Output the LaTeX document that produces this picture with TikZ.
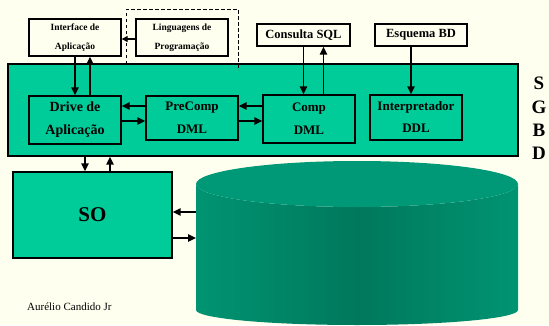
\documentclass[tikz,border=0pt]{standalone}
\usepackage{fontspec}
\setmainfont{Liberation Serif}
\usetikzlibrary{arrows.meta,calc}
\definecolor{paper}{RGB}{255,255,240}
\definecolor{sgbdgreen}{RGB}{0,204,153}
\definecolor{cyltop}{RGB}{0,153,119}
\definecolor{cylside}{RGB}{0,148,114}
\definecolor{cylmid}{RGB}{0,120,92}
\tikzset{
  box/.style={draw=black, line width=1.4pt, inner sep=0pt, align=center, font=\bfseries},
  whitebox/.style={box, fill=paper},
  greenbox/.style={box, fill=sgbdgreen},
  arr/.style={line width=1.5pt, -{Triangle[length=8pt,width=7.5pt]}},
  smallarr/.style={line width=1.1pt, -{Triangle[length=6pt,width=6pt]}},
  sgbdletter/.style={font=\bfseries\fontsize{19}{19}\selectfont, inner sep=0pt},
}
\begin{document}
\begin{tikzpicture}[x=1pt,y=1pt]
  % page
  \fill[paper] (0,0) rectangle (549,325);
  \useasboundingbox (0,0) rectangle (549,325);

  % SGBD block
  \node[greenbox, minimum width=510pt, minimum height=92pt] (sgbd) at (263,215) {};

  % dashed frame round the programming languages
  \draw[line width=1pt, dash pattern=on 3.5pt off 2.5pt] (126,261) -- (126,316) -- (238,316) -- (238,255);

  % outside inputs
  \node[whitebox, minimum width=92pt, minimum height=37pt, font=\bfseries\fontsize{9.5}{19}\selectfont] (iface) at (75,287.5) {Interface de\\Aplicação};
  \node[whitebox, minimum width=92pt, minimum height=37pt, font=\bfseries\fontsize{9.5}{19}\selectfont] (ling) at (182,287.5) {Linguagens de\\Programação};
  \node[whitebox, minimum width=93pt, minimum height=22pt, font=\bfseries\fontsize{12.5}{14}\selectfont] (sql) at (303.5,290) {Consulta SQL};
  \node[whitebox, minimum width=92pt, minimum height=22pt, font=\bfseries\fontsize{12.5}{14}\selectfont] (esq) at (421,290) {Esquema BD};

  % SGBD modules
  \node[greenbox, minimum width=92pt, minimum height=48pt, font=\bfseries\fontsize{14}{23}\selectfont] (drive) at (75,205) {Drive de\\Aplicação};
  \node[greenbox, minimum width=92pt, minimum height=44pt, font=\bfseries\fontsize{13}{23}\selectfont] (precomp) at (192,207) {PreComp\\DML};
  \node[greenbox, minimum width=92pt, minimum height=48pt, font=\bfseries\fontsize{13}{23}\selectfont] (comp) at (309,206) {Comp\\DML};
  \node[greenbox, minimum width=92pt, minimum height=45pt, font=\bfseries\fontsize{13}{22}\selectfont] (interp) at (416,207.5) {Interpretador\\DDL};

  % SGBD letters
  \node[sgbdletter] (ls) at (539,242) {S};
  \node[sgbdletter] (lg) at (539,218) {G};
  \node[sgbdletter] (lb) at (539,195) {B};
  \node[sgbdletter] (ld) at (539,172) {D};

  % operating system
  \node[greenbox, minimum width=159pt, minimum height=86pt, font=\bfseries\fontsize{21}{22}\selectfont] (so) at (92.5,110) {SO};

  % database cylinder
  \coordinate (cylL) at (196,141);
  \shade[left color=cylside, right color=cylside, middle color=cylmid]
    (196,141) -- (196,15) arc[start angle=180, end angle=360, x radius=161, y radius=15]
    -- (518,141) arc[start angle=0, end angle=-180, x radius=161, y radius=23] -- cycle;
  \fill[cyltop] (357,141) ellipse[x radius=161, y radius=23];

  % connectors
  \draw[smallarr] (ling.west |- 0,286) -- (iface.east |- 0,286);
  \draw[arr] (iface.south) -- (drive.north);
  \draw[arr] ([xshift=15pt]drive.north) -- ([xshift=15pt]iface.south);

  \draw[arr] ([yshift=12pt]precomp.west) -- ([yshift=12pt]precomp.west -| drive.east);
  \draw[arr] ([yshift=-3pt]precomp.west -| drive.east) -- ([yshift=-3pt]precomp.west);
  \draw[arr] ([yshift=12pt]precomp.east -| comp.west) -- ([yshift=12pt]precomp.east);
  \draw[arr] ([yshift=-3pt]precomp.east) -- ([yshift=-3pt]precomp.east -| comp.west);

  \draw[arr] (sql.south) -- (sql.south |- comp.north);
  \draw[arr] ([xshift=20pt]sql.south |- comp.north) -- ([xshift=20pt]sql.south);
  \draw[arr] ([xshift=-10pt]esq.south) -- ([xshift=-10pt]esq.south |- interp.north);

  \draw[arr] ([xshift=-7.5pt]so.north |- sgbd.south) -- ([xshift=-7.5pt]so.north);
  \draw[arr] ([xshift=17.5pt]so.north) -- ([xshift=17.5pt]so.north |- sgbd.south);

  \draw[arr] ([yshift=3pt]so.east -| cylL) -- ([yshift=3pt]so.east);
  \draw[arr] ([yshift=-23pt]so.east) -- ([yshift=-23pt]so.east -| cylL);

  % author credit
  \node[anchor=west, inner sep=0pt, font=\fontsize{11}{12}\selectfont] (author) at (27,18) {Aurélio Candido Jr};
\end{tikzpicture}
\end{document}
